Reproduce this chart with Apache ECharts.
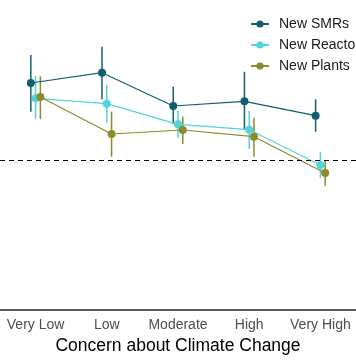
<!DOCTYPE html>
<html><head><meta charset="utf-8">
<script src="https://cdn.jsdelivr.net/npm/echarts@6/dist/echarts.min.js"></script>
<style>html,body{margin:0;padding:0;background:#fff}#c{width:356px;height:364px}</style>
</head><body><div id="c"></div>
<script>
const categories = ['Very Low','Low','Moderate','High','Very High'];
const seriesNames = ['New SMRs','New Reactors','New Plants'];
const smrMean = [0.77, 0.873, 0.54, 0.587, 0.443];
const smrLow  = [0.483, 0.607, 0.36, 0.30, 0.283];
const smrHigh = [1.05, 1.133, 0.733, 0.883, 0.607];
const reactMean = [0.617, 0.563, 0.357, 0.303, -0.05];
const reactLow  = [0.407, 0.373, 0.223, 0.11, -0.183];
const reactHigh = [0.84, 0.75, 0.49, 0.49, 0.08];
const plantMean = [0.63, 0.26, 0.30, 0.233, -0.13];
const plantLow  = [0.41, 0.033, 0.16, 0.033, -0.257];
const plantHigh = [0.837, 0.483, 0.433, 0.423, -0.007];
const referenceLine = 0;

const colors = ['#135e6d', '#53d3db', '#8b8b2b'];
const dodge = [-0.067, 0, 0.067];
const groups = [[smrMean, smrLow, smrHigh],[reactMean, reactLow, reactHigh],[plantMean, plantLow, plantHigh]];

const series = [];
groups.forEach((g, k) => {
  const [m, lo, hi] = g;
  series.push({
    type: 'custom', xAxisIndex: 1, yAxisIndex: 0, silent: true, z: 2,
    data: categories.map((c, i) => [i + dodge[k], lo[i], hi[i]]),
    renderItem: (params, api) => {
      const a = api.coord([api.value(0), api.value(1)]);
      const b = api.coord([api.value(0), api.value(2)]);
      return { type: 'line', shape: { x1: a[0], y1: a[1], x2: b[0], y2: b[1] },
        style: { stroke: colors[k], lineWidth: 1.5 } };
    }
  });
});
groups.forEach((g, k) => {
  series.push({
    name: seriesNames[k], type: 'line', xAxisIndex: 1, yAxisIndex: 0, z: 3,
    data: categories.map((c, i) => [i + dodge[k], g[0][i]]),
    symbol: 'circle', symbolSize: 8, showSymbol: true,
    itemStyle: { color: colors[k] },
    lineStyle: { color: colors[k], width: 1.2 },
    emphasis: { disabled: true },
    markLine: k === 0 ? { silent: true, symbol: 'none', label: { show: false },
      lineStyle: { color: '#000', type: [5, 4], width: 1.2 },
      data: [{ yAxis: referenceLine }] } : undefined
  });
});

const chart = echarts.init(document.getElementById('c'), null, { renderer: 'canvas' });
chart.setOption({
  animation: false,
  backgroundColor: '#fff',
  grid: { left: 0, right: 0, top: 10, bottom: 54, containLabel: false },
  legend: {
    orient: 'vertical', left: 245, top: 12, itemGap: 7,
    itemWidth: 18, itemHeight: 9,
    textStyle: { fontFamily: 'Liberation Sans', fontSize: 14, color: '#1a1a1a', padding: [0,0,0,5] },
    data: seriesNames
  },
  xAxis: [{
    type: 'category', data: categories, boundaryGap: true,
    axisLine: { onZero: false, lineStyle: { color: '#222', width: 1.5 } },
    axisTick: { alignWithLabel: true, length: 4, lineStyle: { color: '#333', width: 1.2 } },
    axisLabel: { fontFamily: 'Liberation Sans', fontSize: 14, color: '#4d4d4d', margin: 8, interval: 0 },
    name: 'Concern about Climate Change', nameLocation: 'middle', nameGap: 25,
    nameTextStyle: { fontFamily: 'Liberation Sans', fontSize: 17.5, color: '#000' },
    splitLine: { show: false }
  }, {
    type: 'value', min: -0.5, max: 4.5, show: false
  }],
  yAxis: [{ type: 'value', min: -1.5, max: 1.5, show: false, splitLine: { show: false } }],
  series: series
});
</script></body></html>
